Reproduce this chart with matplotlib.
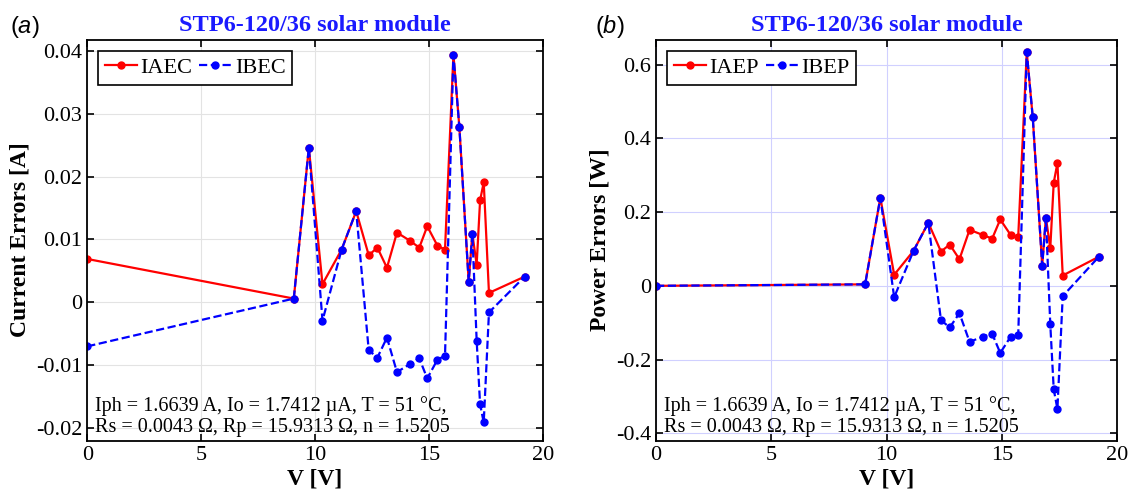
import matplotlib
matplotlib.use("Agg")
import matplotlib.pyplot as plt
from matplotlib.ticker import FuncFormatter

plt.rcParams["font.family"] = ["Liberation Serif", "DejaVu Serif"]
plt.rcParams["axes.unicode_minus"] = False
plt.rcParams["mathtext.fontset"] = "custom"
plt.rcParams["mathtext.rm"] = "Liberation Sans"
plt.rcParams["mathtext.it"] = "Liberation Sans:italic"

# voltage points (V)
V = [0, 9.07, 9.73, 10.33, 11.17, 11.81, 12.36, 12.74, 13.16, 13.60, 14.17, 14.58,
     14.93, 15.38, 15.71, 16.08, 16.34, 16.75, 16.91, 17.10, 17.25, 17.41, 17.64, 19.21]

# current errors (A)
iaec = [0.0069, 0.0006, 0.0246, 0.0029, 0.0084, 0.0145, 0.0075, 0.0087, 0.0055, 0.0111,
        0.0098, 0.0087, 0.0121, 0.0090, 0.0084, 0.0394, 0.0279, 0.0033, 0.0109, 0.0060,
        0.0162, 0.0191, 0.0015, 0.0041]
ibec = [-0.0070, 0.0006, 0.0246, -0.0029, 0.0084, 0.0145, -0.0076, -0.0088, -0.0056, -0.0111,
        -0.0098, -0.0089, -0.0121, -0.0091, -0.0085, 0.0394, 0.0279, 0.0033, 0.0109, -0.0061,
        -0.0162, -0.0191, -0.0016, 0.0041]

# power errors (W)
iaep = [0.0, 0.004, 0.239, 0.030, 0.095, 0.171, 0.093, 0.112, 0.072, 0.152, 0.138, 0.128,
        0.180, 0.138, 0.133, 0.634, 0.457, 0.055, 0.185, 0.102, 0.280, 0.333, 0.028, 0.079]
ibep = [0.0, 0.004, 0.239, -0.031, 0.095, 0.171, -0.093, -0.113, -0.074, -0.152, -0.138, -0.130,
        -0.182, -0.138, -0.134, 0.634, 0.457, 0.055, 0.185, -0.104, -0.281, -0.334, -0.028, 0.079]

params_txt = ("Iph = 1.6639 A, Io = 1.7412 \u00b5A, T = 51 \u00b0C,\n"
              "Rs = 0.0043 \u03a9, Rp = 15.9313 \u03a9, n = 1.5205")

fig = plt.figure(figsize=(11.33, 5.04), dpi=100)
ax1 = fig.add_axes([0.077, 0.1256, 0.402, 0.796])
ax2 = fig.add_axes([0.579, 0.1256, 0.407, 0.796])


def fmt(v, pos):
    s = "%g" % round(v, 4)
    return "0" if s in ("-0", "0") else s


def style(ax, ylim, yticks, gridcolor, ylabel):
    ax.set_xlim(0, 20)
    ax.set_ylim(*ylim)
    ax.set_xticks([0, 5, 10, 15, 20])
    ax.set_yticks(yticks)
    ax.yaxis.set_major_formatter(FuncFormatter(fmt))
    ax.grid(True, color=gridcolor, linewidth=0.8)
    ax.set_axisbelow(True)
    ax.tick_params(direction="in", top=True, right=True, labelsize=16, length=5, width=1.2)
    for sp in ax.spines.values():
        sp.set_linewidth(1.3)
    ax.set_xlabel("V [V]", fontsize=17, fontweight="bold", labelpad=3)
    ax.set_ylabel(ylabel, fontsize=17, fontweight="bold", labelpad=4)
    ax.set_title("STP6-120/36 solar module", fontsize=17.5, fontweight="bold", color="#1a1aff", pad=6)
    ax.text(0.017, 0.008, params_txt, transform=ax.transAxes, fontsize=14.5, linespacing=1.17,
            va="bottom", ha="left")


def legend(ax):
    leg = ax.legend(loc="upper left", ncol=2, fontsize=16, handlelength=1.45, handletextpad=0.15,
                    columnspacing=0.3, fancybox=False, framealpha=1, edgecolor="black",
                    borderaxespad=0.5, borderpad=0.3)
    leg.get_frame().set_linewidth(1.2)


# (a) current errors
ax1.plot(V, iaec, "-o", color="red", lw=1.6, ms=5, label="IAEC")
ax1.plot(V, ibec, "--o", color="blue", lw=1.6, ms=5, label="IBEC")
style(ax1, (-0.022, 0.0418), [-0.02, -0.01, 0, 0.01, 0.02, 0.03, 0.04], "#e3e3e3", "Current Errors [A]")
legend(ax1)

# (b) power errors
ax2.plot(V, iaep, "-o", color="red", lw=1.6, ms=5, label="IAEP")
ax2.plot(V, ibep, "--o", color="blue", lw=1.6, ms=5, label="IBEP")
style(ax2, (-0.42, 0.668), [-0.4, -0.2, 0, 0.2, 0.4, 0.6], "#d0d0ff", "Power Errors [W]")
legend(ax2)

fig.text(0.009, 0.935, r"($\mathit{a}$)", fontsize=17, family="Liberation Sans")
fig.text(0.525, 0.935, r"($\mathit{b}$)", fontsize=17, family="Liberation Sans")

fig.savefig("out.png", dpi=100)
